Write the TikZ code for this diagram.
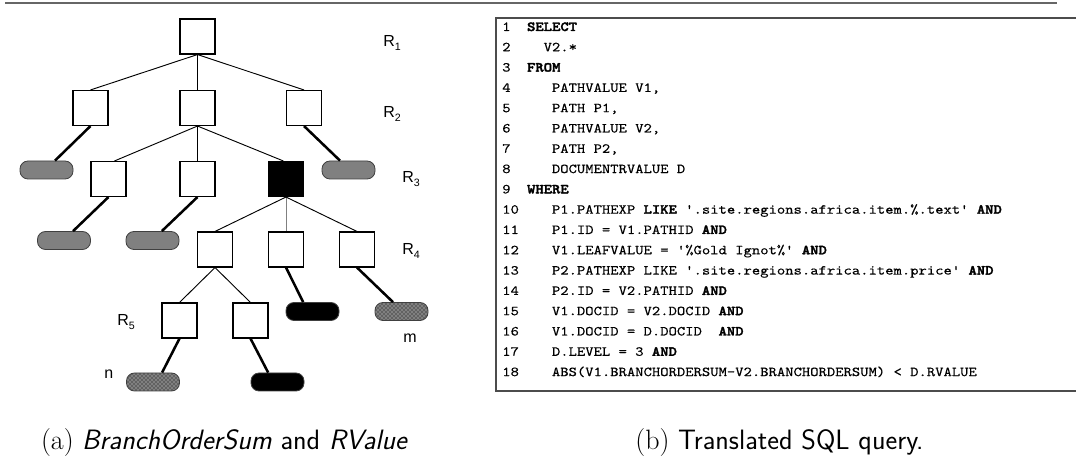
\documentclass[tikz,border=0pt]{standalone}
\usepackage{fontspec}
\newfontfamily\sqlfont{lmmono10-regular.otf}[BoldFont=lmmonolt10-bold.otf, UprightFeatures={FakeBold=0.2}, BoldFeatures={FakeBold=2.5}, FakeStretch=1.15]
\newfontfamily\labfont{Liberation Sans}
\usetikzlibrary{patterns}
\tikzset{
  elem/.style={draw=black, line width=0.8pt, minimum size=26.25pt, inner sep=0pt, fill=white},
  selem/.style={elem, fill=black},
  leaf/.style={draw=black!75, line width=0.6pt, rounded corners=6pt, minimum width=39.75pt, minimum height=13.5pt, inner sep=0pt},
  gleaf/.style={leaf, fill=gray},
  bleaf/.style={leaf, fill=black},
  hleaf/.style={leaf, preaction={fill=black!50}, pattern=crosshatch dots},
  edge/.style={line width=0.7pt},
  tedge/.style={line width=1.9pt},
  lvl/.style={anchor=base west, inner sep=0pt, font=\labfont\fontsize{12}{14}\selectfont},
  num/.style={anchor=base west, inner sep=0pt, font=\sqlfont\fontsize{10.35}{12}\selectfont},
  capt/.style={anchor=base, inner sep=0pt, font=\fontsize{21}{25}\selectfont},
}
\newcommand{\lsub}[1]{\raisebox{-2.5pt}{\fontsize{8}{8}\selectfont #1}}

\begin{document}
\begin{tikzpicture}[x=0.75pt, y=-0.75pt]
  \useasboundingbox (0,0) rectangle (1076,466);
  \draw[black!60, line width=1.1pt] (5,3) -- (1057,3);

  % tree
  \node[elem] (r) at (197.5,36.5) {};
  \node[elem] (a1) at (90.5,108) {};
  \node[elem] (a2) at (197.5,108) {};
  \node[elem] (a3) at (304,108) {};
  \node[gleaf] (g1) at (46.5,170) {};
  \node[elem] (b1) at (108.5,179) {};
  \node[elem] (b2) at (197.5,179) {};
  \node[selem] (b3) at (286,179) {};
  \node[gleaf] (g2) at (348.5,170) {};
  \node[gleaf] (g3) at (64,240.5) {};
  \node[gleaf] (g4) at (152.5,240.5) {};
  \node[elem] (c1) at (215,249.5) {};
  \node[elem] (c2) at (286,249.5) {};
  \node[elem] (c3) at (357,249.5) {};
  \node[elem] (d1) at (179.5,320.5) {};
  \node[elem] (d2) at (250.5,320.5) {};
  \node[bleaf] (k1) at (312.5,311.5) {};
  \node[hleaf] (h1) at (401.5,311.5) {};
  \node[hleaf] (h2) at (153,382) {};
  \node[bleaf] (k2) at (277.5,382) {};

  \draw[edge] (r.south) -- (a1.north);
  \draw[edge] (r.south) -- (a2.north);
  \draw[edge] (r.south) -- (a3.north);
  \draw[edge] (a2.south) -- ([xshift=4.5pt]b1.north);
  \draw[edge] (a2.south) -- (b2.north);
  \draw[edge] (a2.south) -- ([xshift=-2pt]b3.north);
  \draw[edge] (b3.south) -- (c1.north);
  \draw[edge, gray] (b3.south) -- (c2.north);
  \draw[edge] (b3.south) -- (c3.north);
  \draw[edge] (c1.south) -- (d1.north);
  \draw[edge] (c1.south) -- (d2.north);
  \draw[tedge] (a1.south) -- ([xshift=6.4pt]g1.north);
  \draw[tedge] (a3.south) -- ([xshift=-6.4pt]g2.north);
  \draw[tedge] (b1.south) -- ([xshift=6.8pt]g3.north);
  \draw[tedge] (b2.south) -- ([xshift=7pt]g4.north);
  \draw[tedge] (c2.south) -- ([xshift=-7pt]k1.north);
  \draw[tedge] (c3.south) -- ([xshift=-6.4pt]h1.north);
  \draw[tedge] (d1.south) -- ([xshift=6.8pt]h2.north);
  \draw[tedge] (d2.south) -- ([xshift=-7pt]k2.north);

  \node[lvl] (R1) at (383,47) {R\lsub{1}};
  \node[lvl] (R2) at (383,118) {R\lsub{2}};
  \node[lvl] (R3) at (402,183) {R\lsub{3}};
  \node[lvl] (R4) at (402,255) {R\lsub{4}};
  \node[lvl] (R5) at (117,326) {R\lsub{5}};
  \node[lvl] (m) at (403,343) {m};
  \node[lvl] (n) at (104,379) {n};

  % SQL listing
  \draw[black!70, line width=1pt] (496,18) rectangle (1085,391);
  \foreach \i in {1,...,18}
    \node[num] (n\i) at (502,{31+(\i-1)*20.3}) {\i};
  \node[num] (l1) at ([xshift=18.63pt]n1.base west) {\textbf{SELECT}};
  \node[num] (l2) at ([xshift=31.05pt]n2.base west) {V2.*};
  \node[num] (l3) at ([xshift=18.63pt]n3.base west) {\textbf{FROM}};
  \node[num] (l4) at ([xshift=37.26pt]n4.base west) {PATHVALUE V1,};
  \node[num] (l5) at ([xshift=37.26pt]n5.base west) {PATH P1,};
  \node[num] (l6) at ([xshift=37.26pt]n6.base west) {PATHVALUE V2,};
  \node[num] (l7) at ([xshift=37.26pt]n7.base west) {PATH P2,};
  \node[num] (l8) at ([xshift=37.26pt]n8.base west) {DOCUMENTRVALUE D};
  \node[num] (l9) at ([xshift=18.63pt]n9.base west) {\textbf{WHERE}};
  \node[num] (l10) at ([xshift=37.26pt]n10.base west) {P1.PATHEXP \textbf{LIKE} '.site.regions.africa.item.\%.text' \textbf{AND}};
  \node[num] (l11) at ([xshift=37.26pt]n11.base west) {P1.ID = V1.PATHID \textbf{AND}};
  \node[num] (l12) at ([xshift=37.26pt]n12.base west) {V1.LEAFVALUE = '\%Gold Ignot\%' \textbf{AND}};
  \node[num] (l13) at ([xshift=37.26pt]n13.base west) {P2.PATHEXP LIKE '.site.regions.africa.item.price' \textbf{AND}};
  \node[num] (l14) at ([xshift=37.26pt]n14.base west) {P2.ID = V2.PATHID \textbf{AND}};
  \node[num] (l15) at ([xshift=37.26pt]n15.base west) {V1.DOCID = V2.DOCID \textbf{AND}};
  \node[num] (l16) at ([xshift=37.26pt]n16.base west) {V1.DOCID = D.DOCID\ \ \textbf{AND}};
  \node[num] (l17) at ([xshift=37.26pt]n17.base west) {D.LEVEL = 3 \textbf{AND}};
  \node[num] (l18) at ([xshift=37.26pt]n18.base west) {ABS(V1.BRANCHORDERSUM-V2.BRANCHORDERSUM) < D.RVALUE};

  % captions
  \node[capt] (capa) at (224.5,450) {(a) \textsf{\textit{BranchOrderSum} and \textit{RValue}}};
  \node[capt] (capb) at (779.5,450) {(b) \textsf{Translated SQL query.}};
\end{tikzpicture}
\end{document}
